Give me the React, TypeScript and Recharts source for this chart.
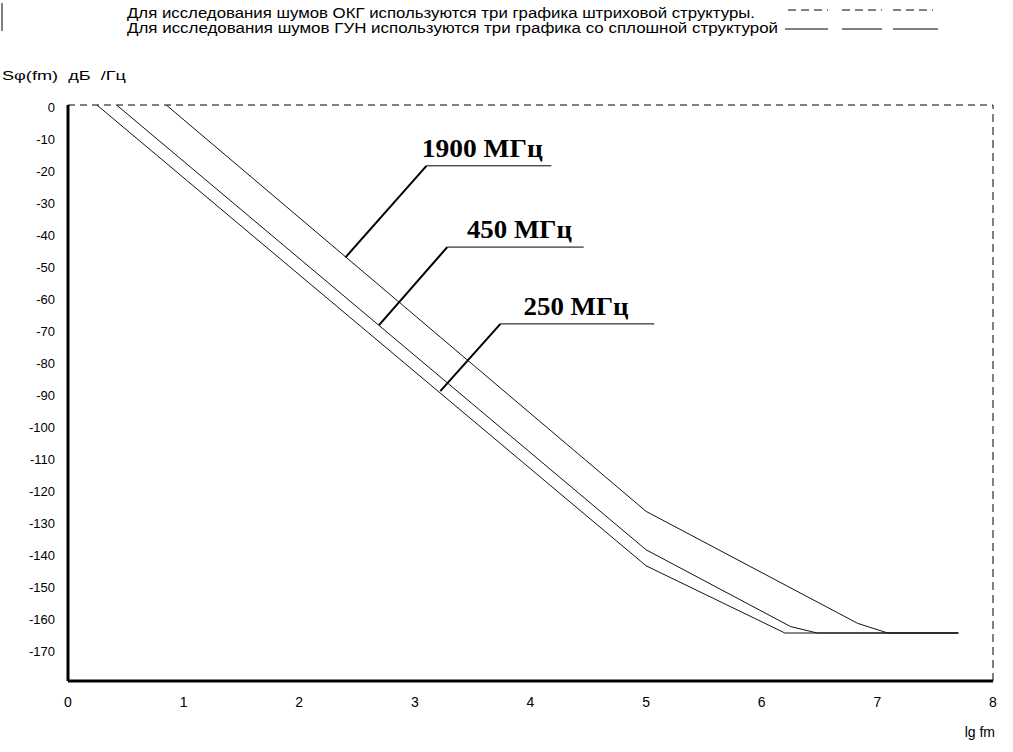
import { LineChart, Line, XAxis, YAxis, ReferenceLine, ReferenceDot } from 'recharts';

// lg fm / S(fm) points for each curve
const lgF250 = [0.25, 5.0, 6.2, 7.7];
const s250 = [0, -144, -165, -165];
const lgF450 = [0.42, 5.0, 6.25, 6.48, 7.7];
const s450 = [0, -139, -163, -165, -165];
const lgF1900 = [0.85, 5.0, 6.83, 7.09, 7.7];
const s1900 = [0, -127, -162, -165, -165];

const xTicks = [0, 1, 2, 3, 4, 5, 6, 7, 8];
const yTicks = [0, -10, -20, -30, -40, -50, -60, -70, -80, -90, -100, -110, -120, -130, -140, -150, -160, -170];

// callouts: leader end on the curve, knee, underline end, label anchor
const calloutNames = ['1900 МГц', '450 МГц', '250 МГц'];
const calloutLeaderX = [2.4, 2.69, 3.22];
const calloutLeaderY = [-47.6, -68.8, -89.4];
const calloutKneeX = [3.1, 3.28, 3.74];
const calloutKneeY = [-19, -44.4, -68.4];
const calloutEndX = [4.18, 4.46, 5.07];
const calloutLabelX = [3.06, 3.45, 3.94];
const calloutLabelY = [-16.2, -41.5, -65.6];
const calloutWidths = [121, 105, 105];

const toRows = (xs: number[], ys: number[]) => xs.map((x, i) => ({ x, s: ys[i] }));

const curves = [toRows(lgF250, s250), toRows(lgF450, s450), toRows(lgF1900, s1900)];

const font = '"Liberation Sans", Arial, sans-serif';

export default function App() {
  return (
    <div style={{ position: 'absolute', left: 0, top: 0, width: 1013, height: 752, background: '#fff' }}>
      <LineChart width={1013} height={752} margin={{ top: 105, right: 20, left: 8, bottom: 41 }}>
        <XAxis
          type="number"
          dataKey="x"
          domain={[0, 8]}
          ticks={xTicks}
          allowDataOverflow
          axisLine={{ stroke: '#000', strokeWidth: 3 }}
          tickLine={false}
          tickSize={0}
          tickMargin={16}
          height={30}
          tick={{ fill: '#000', fontSize: 14, fontFamily: font }}
        />
        <YAxis
          type="number"
          dataKey="s"
          domain={[-180, 0]}
          ticks={yTicks}
          allowDataOverflow
          axisLine={{ stroke: '#000', strokeWidth: 3 }}
          tickLine={false}
          tickSize={0}
          tickMargin={13}
          width={60}
          tick={{ fill: '#000', fontSize: 13, fontFamily: font, dy: 2 }}
        />
        <ReferenceLine y={0} stroke="#000" strokeDasharray="7 5" />
        <ReferenceLine x={8} stroke="#000" strokeDasharray="8 5" />
        {curves.map((rows, i) => (
          <Line
            key={'c' + i}
            data={rows}
            dataKey="s"
            stroke="#111"
            strokeWidth={1}
            dot={false}
            activeDot={false}
            type="linear"
            isAnimationActive={false}
          />
        ))}
        {calloutNames.map((name, i) => (
          <Line
            key={'l' + i}
            data={[
              { x: calloutLeaderX[i], s: calloutLeaderY[i] },
              { x: calloutKneeX[i], s: calloutKneeY[i] },
            ]}
            dataKey="s"
            stroke="#000"
            strokeWidth={2}
            dot={false}
            activeDot={false}
            isAnimationActive={false}
          />
        ))}
        {calloutNames.map((name, i) => (
          <Line
            key={'u' + i}
            data={[
              { x: calloutKneeX[i], s: calloutKneeY[i] },
              { x: calloutEndX[i], s: calloutKneeY[i] },
            ]}
            dataKey="s"
            stroke="#000"
            strokeWidth={1}
            dot={false}
            activeDot={false}
            isAnimationActive={false}
          />
        ))}
        {calloutNames.map((name, i) => (
          <ReferenceDot
            key={'t' + i}
            x={calloutLabelX[i]}
            y={calloutLabelY[i]}
            r={0}
            shape={(p: any) => (
              <text
                x={p.cx}
                y={p.cy}
                fontFamily='"Liberation Serif", "Times New Roman", serif'
                fontWeight="bold"
                fontSize={25}
                fill="#000"
                textLength={calloutWidths[i]}
                lengthAdjust="spacingAndGlyphs"
              >
                {name}
              </text>
            )}
          />
        ))}
      </LineChart>
      <svg
        width={1013}
        height={752}
        style={{ position: 'absolute', left: 0, top: 0, pointerEvents: 'none' }}
      >
        <line x1={2} y1={3} x2={2} y2={31} stroke="#000" strokeWidth={1} />
        <text x={127} y={18} fontFamily={font} fontSize={14} fill="#000" textLength={628} lengthAdjust="spacingAndGlyphs">
          Для исследования шумов ОКГ используются три графика штриховой структуры.
        </text>
        <text x={127} y={33} fontFamily={font} fontSize={14} fill="#000" textLength={651} lengthAdjust="spacingAndGlyphs">
          Для исследования шумов ГУН используются три графика со сплошной структурой
        </text>
        <line x1={788} y1={10} x2={828} y2={10} stroke="#000" strokeDasharray="8 5" />
        <line x1={842} y1={10} x2={882} y2={10} stroke="#000" strokeDasharray="8 5" />
        <line x1={893} y1={10} x2={933} y2={10} stroke="#000" strokeDasharray="8 5" />
        <line x1={785} y1={29} x2={828} y2={29} stroke="#000" />
        <line x1={842} y1={29} x2={882} y2={29} stroke="#000" />
        <line x1={893} y1={29} x2={938} y2={29} stroke="#000" />
        <text x={2} y={80} fontFamily={font} fontSize={13} fill="#000" textLength={124} lengthAdjust="spacingAndGlyphs" xmlSpace="preserve">
          Sφ(fm)  дБ  /Гц
        </text>
        <text x={995} y={737} fontFamily={font} fontSize={14} fill="#000" textAnchor="end">
          lg fm
        </text>
      </svg>
    </div>
  );
}
